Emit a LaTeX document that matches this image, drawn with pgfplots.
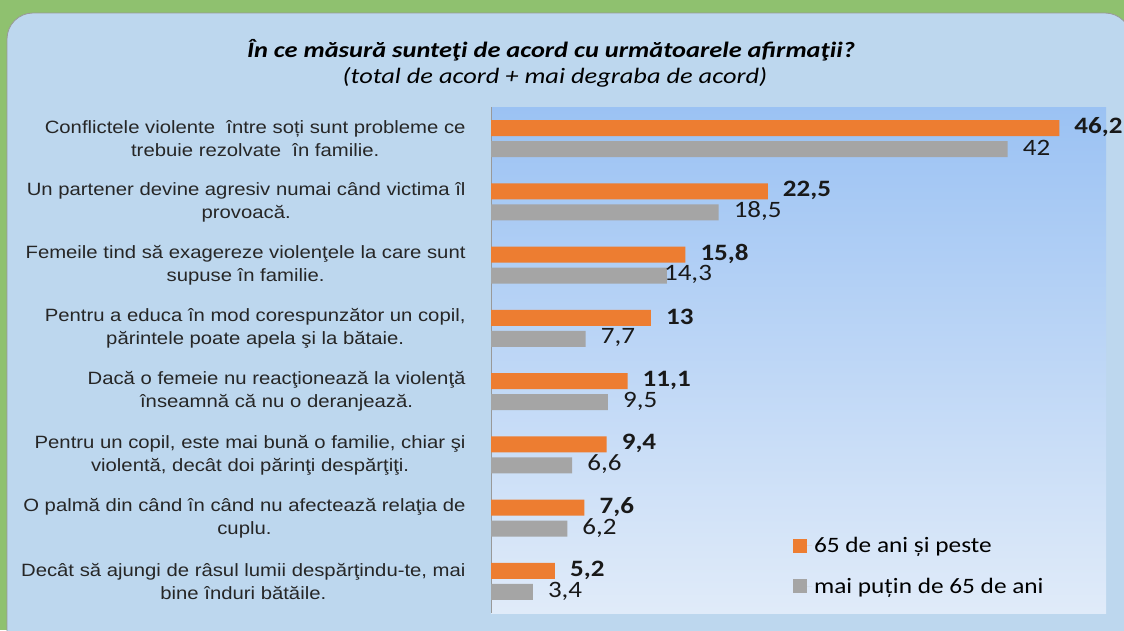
\documentclass[border=0pt]{standalone}
\usepackage{pgfplots}
\pgfplotsset{compat=1.18}
\usepackage{pgfplotstable}
\usepackage{fontspec}
\setmainfont[FakeStretch=1.14]{Liberation Sans}
\newfontfamily\calibri[FakeStretch=1.15]{Carlito}
\newfontfamily\calibrit[FakeStretch=1.2]{Carlito}
\definecolor{bggreen}{HTML}{8FC16F}
\definecolor{panel}{HTML}{BDD7EE}
\definecolor{plottop}{HTML}{9BC2F3}
\definecolor{plotbot}{HTML}{E0EBF9}
\definecolor{orangebar}{HTML}{ED7D31}
\definecolor{graybar}{HTML}{A5A5A5}

\pgfplotstableread{
y val lab dx
7 46.2 46,2 0
6 22.5 22,5 0
5 15.8 15,8 0
4 13 13 0
3 11.1 11,1 0
2 9.4 9,4 0
1 7.6 7,6 0
0 5.2 5,2 0
}\older

\pgfplotstableread{
y val lab dx
7 42 42 0
6 18.5 18,5 0
5 14.3 14,3 -18
4 7.7 7,7 0
3 9.5 9,5 0
2 6.6 6,6 0
1 6.2 6,2 0
0 3.4 3,4 0
}\younger

\begin{document}
\begin{tikzpicture}[x=1pt,y=1pt]
\useasboundingbox (0,0) rectangle (1124,-630);
\fill[bggreen] (0,0) rectangle (1124,-630);
\draw[gray!80, line width=0.8pt, fill=panel, rounded corners=26pt] (7,-13) rectangle (1131,-670);
\node[anchor=base, font=\calibrit\bfseries\itshape\fontsize{22}{26}\selectfont] at (551,-57) {În ce măsură sunteţi de acord cu următoarele afirmaţii?};
\node[anchor=base, font=\calibrit\itshape\fontsize{22}{26}\selectfont] at (555,-83) {(total de acord + mai degraba de acord)};
\begin{axis}[
  at={(491pt,-613pt)}, anchor=south west,
  scale only axis, width=615pt, height=506pt,
  xmin=0, xmax=50, ymin=-0.5, ymax=7.5,
  xbar, bar width=16pt,
  hide x axis,
  axis y line*=left,
  axis line style={draw=gray!80, line width=0.8pt},
  axis background/.style={top color=plottop, bottom color=plotbot},
  ytick={0,...,7},
  ytick style={draw=none},
  yticklabels={
    {Decât să ajungi de râsul lumii despărţindu-te, mai\\bine înduri bătăile.},
    {O palmă din când în când nu afectează relaţia de\\cuplu.},
    {Pentru un copil, este mai bună o familie, chiar şi\\violentă, decât doi părinţi despărţiţi.},
    {Dacă o femeie nu reacţionează la violenţă\\înseamnă că nu o deranjează.},
    {Pentru a educa în mod corespunzător un copil,\\părintele poate apela şi la bătaie.},
    {Femeile tind să exagereze violenţele la care sunt\\supuse în familie.},
    {Un partener devine agresiv numai când victima îl\\provoacă.},
    {Conflictele violente~ între soți sunt probleme ce\\trebuie rezolvate~ în familie.}
  },
  yticklabel style={align=center, font=\fontsize{17.8}{23}\selectfont, inner sep=0pt, xshift=-21pt, text=black!85},
  point meta=explicit symbolic,
  nodes near coords,
  visualization depends on={\thisrow{dx} \as \dx},
  every node near coord/.append style={anchor=west, inner sep=0pt, xshift=15pt+\dx pt, yshift=1pt, text=black!90},
  legend style={at={(0.486,0.158)}, anchor=north west, draw=none, fill=none,
    font=\calibri\fontsize{22}{26}\selectfont, row sep=20pt, cells={anchor=west}},
  legend image code/.code={\fill[#1, draw=none] (0pt,-7pt) rectangle (14pt,7pt); \path (0pt,0pt) -- (19pt,0pt);},
]
\addplot[fill=orangebar, draw=none, bar shift=10.5pt,
  nodes near coords style={font=\calibri\bfseries\fontsize{23.5}{28}\selectfont}]
  table[x=val, y=y, meta=lab] {\older};
\addlegendentry{65 de ani și peste}
\addplot[fill=graybar, draw=none, bar shift=-10.5pt,
  nodes near coords style={font=\calibri\fontsize{23.5}{28}\selectfont}]
  table[x=val, y=y, meta=lab] {\younger};
\addlegendentry{mai puțin de 65 de ani}
\end{axis}
\end{tikzpicture}
\end{document}
